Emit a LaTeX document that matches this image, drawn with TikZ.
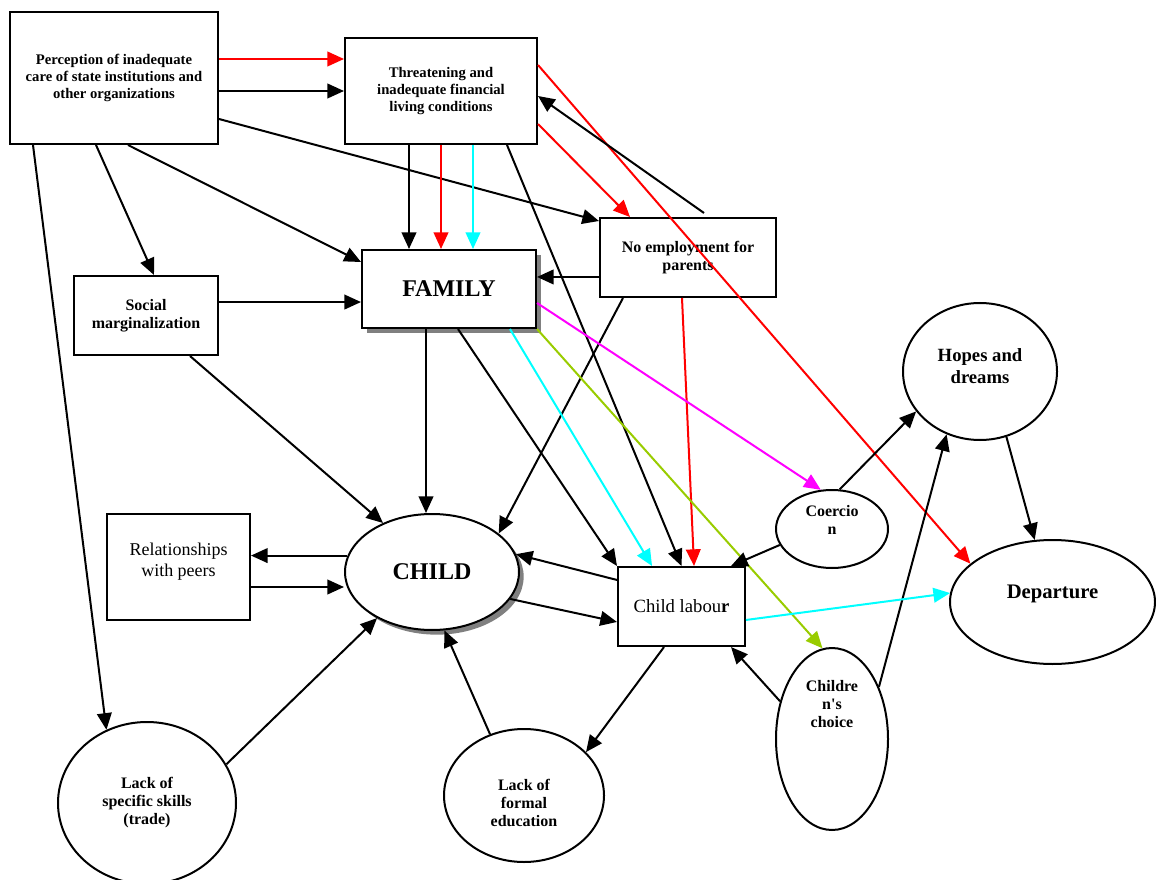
\documentclass[tikz,border=0pt]{standalone}
\usepackage{fontspec}
\setmainfont{Liberation Serif}
\usetikzlibrary{arrows.meta, shapes.geometric, shadows}
\definecolor{limegreen}{RGB}{153,204,0}
\definecolor{aqua}{RGB}{0,255,255}
\definecolor{fuchsia}{RGB}{255,0,255}

\begin{document}
\begin{tikzpicture}[x=0.75pt, y=-0.75pt,
  box/.style={draw, rectangle, line width=1.5pt, inner sep=0pt, align=center,
    font=\fontsize{11}{13}\selectfont\bfseries},
  bubble/.style={draw, ellipse, line width=1.5pt, inner sep=0pt, align=center,
    font=\fontsize{12}{13.5}\selectfont\bfseries},
  bubbletext/.style={align=center, font=\fontsize{12}{13.5}\selectfont\bfseries},
  shade/.style={fill=white, drop shadow={shadow xshift=3.5pt, shadow yshift=-3.5pt,
    fill=gray, opacity=1}},
  arrow/.style={-{Triangle[length=12.5pt, width=11pt]}, line width=1.5pt}
]
\useasboundingbox (0,0) rectangle (1156,880);

% Causes at the top
\node[box, minimum width=156pt, minimum height=99pt] (perc) at (114,78)
  {Perception of inadequate\\care of state institutions and\\other organizations};
\node[box, minimum width=144pt, minimum height=79.5pt] (threat) at (441,91)
  {Threatening and\\inadequate financial\\living conditions};
\node[box, minimum width=132pt, minimum height=59.25pt,
  font=\fontsize{12}{13.5}\selectfont\bfseries] (noemp) at (688,257.5)
  {No employment for\\parents};
\node[box, shade, minimum width=130.5pt, minimum height=58.5pt,
  font=\fontsize{18}{20}\selectfont\bfseries] (family) at (449,289) {FAMILY};
\node[box, minimum width=108pt, minimum height=59.25pt,
  font=\fontsize{12}{13.5}\selectfont\bfseries] (social) at (146,315.5)
  {Social\\marginalization};

% Child and its surroundings
\node[box, minimum width=107.25pt, minimum height=79.5pt,
  label={[font=\fontsize{13.5}{16}\selectfont, align=center, yshift=4pt]center:Relationships\\with peers}]
  (peers) at (178.5,567) {};
\node[bubble, shade, minimum width=130.5pt, minimum height=87pt,
  font=\fontsize{18}{20}\selectfont\bfseries] (child) at (432,572) {CHILD};
\node[box, minimum width=95.25pt, minimum height=59.25pt,
  font=\fontsize{14}{16}\selectfont\mdseries] (labour) at (681.5,606.5)
  {Child labou\textbf{r}};

% Right hand side
\node[bubble, minimum width=84pt, minimum height=58.5pt,
  label={[bubbletext, yshift=7pt]center:Coercio\\n}] (coerc) at (832,529) {};
\node[bubble, minimum width=115.5pt, minimum height=102.75pt,
  label={[font=\fontsize{14}{16.5}\selectfont\bfseries, align=center, yshift=4pt]center:Hopes and\\dreams}]
  (hopes) at (980,371.5) {};
\node[bubble, minimum width=153.75pt, minimum height=93pt,
  label={[font=\fontsize{15.5}{17}\selectfont\bfseries, yshift=6pt]center:Departure}]
  (depart) at (1052.5,602) {};
\node[bubble, minimum width=84pt, minimum height=136.5pt,
  label={[bubbletext, yshift=26pt]center:Childre\\n\textquotesingle s\\choice}] (choice) at (832,739) {};

% Bottom
\node[bubble, minimum width=133.5pt, minimum height=121.5pt] (skills) at (147,803)
  {Lack of\\specific skills\\(trade)};
\node[bubble, minimum width=120pt, minimum height=99.75pt,
  label={[bubbletext, yshift=-5.5pt]center:Lack of\\formal\\education}] (formal) at (524,795.5) {};

% Arrows from perception
\draw[arrow, red] ([yshift=14.25pt]perc.east) -- ([yshift=14.25pt]perc.east -| threat.west);
\draw[arrow] (perc.east |- threat.west) -- (threat.west);
\draw[arrow] ([yshift=-30.75pt]perc.east) -- ([yshift=-3pt]noemp.north west);
\draw[arrow] ([xshift=10.5pt]perc.south) -- ([yshift=-9.75pt]family.north west);
\draw[arrow] ([xshift=-13.5pt]perc.south) -- ([xshift=6pt]social.north);
\draw[arrow] ([xshift=-60.75pt]perc.south) -- (skills.119);

% Arrows from living conditions
\draw[arrow] ([xshift=-24pt]threat.south) -- ([xshift=-24pt]threat.south |- family.north);
\draw[arrow, red] (threat.south) -- (threat.south |- family.north);
\draw[arrow, aqua] ([xshift=24pt]threat.south) -- ([xshift=24pt]threat.south |- family.north);
\draw[arrow] ([xshift=49.5pt]threat.south) -- (labour.north);
\draw[arrow, red] ([yshift=-24.75pt]threat.east) -- ([xshift=-43.5pt]noemp.north);
\draw[arrow, red] ([yshift=19.5pt]threat.east) -- (depart.155);

% Arrows from unemployment
\draw[arrow] ([xshift=12pt, yshift=3pt]noemp.north) -- ([yshift=-3.75pt]threat.east);
\draw[arrow] ([yshift=-14.6pt]noemp.west) -- ([yshift=-14.6pt]noemp.west -| family.east);
\draw[arrow] ([xshift=-48.75pt]noemp.south) -- (child.30);
\draw[arrow, red] ([xshift=-4.5pt]noemp.south) -- ([xshift=9.4pt]labour.north);

% Arrows from marginalization
\draw[arrow] ([yshift=10.1pt]social.east) -- ([yshift=10.1pt]social.east -| family.west);
\draw[arrow] ([xshift=33pt]social.south) -- (child.135);

% Arrows from family
\draw[arrow] ([xshift=-17.25pt]family.south) -- ([xshift=-17.25pt]family.south |- child.north);
\draw[arrow] ([xshift=6.75pt]family.south) -- (labour.north west);
\draw[arrow, aqua] ([xshift=45.75pt]family.south) -- ([xshift=-22.1pt]labour.north);
\draw[arrow, fuchsia] ([yshift=-10.5pt]family.east) -- (coerc.106);
\draw[arrow, limegreen] (family.south east) -- (choice.96);

% Around the child
\draw[arrow] ([yshift=19.9pt]labour.west) -- (child.12);
\draw[arrow] (child.-19) -- ([yshift=-11.6pt]labour.west);
\draw[arrow] (child.169) -- (child.169 -| peers.east);
\draw[arrow] ([yshift=-15pt]peers.east) -- ([yshift=-15pt]peers.east -| child.west);
\draw[arrow] (skills.26) -- (child.220);
\draw[arrow] (formal.119) -- (child.-78);
\draw[arrow] ([xshift=-13.1pt]labour.south) -- (formal.35);

% Right hand side
\draw[arrow] (coerc.197) -- ([xshift=-11.25pt]labour.north east);
\draw[arrow] (coerc.79) -- (hopes.212);
\draw[arrow] (choice.144) -- ([xshift=-11.25pt]labour.south east);
\draw[arrow] (choice.48) -- (hopes.242);
\draw[arrow] (hopes.-68) -- (depart.106);
\draw[arrow, aqua] ([yshift=-10.1pt]labour.east) -- (depart.175);

\end{tikzpicture}
\end{document}
